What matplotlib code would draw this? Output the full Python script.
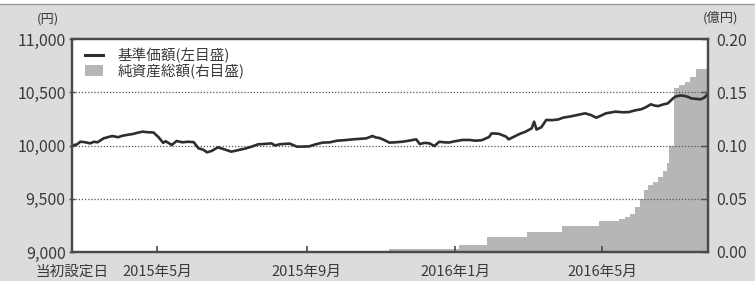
import matplotlib
matplotlib.use("Agg")
import matplotlib.pyplot as plt
from matplotlib.lines import Line2D
from matplotlib.patches import Patch, Rectangle
from matplotlib.ticker import FuncFormatter
import pandas as pd

plt.rcParams['font.family'] = ['Noto Sans CJK JP', 'DejaVu Sans']

# 基準価額 (円)
nav_dates = [
    "2015-02-20", "2015-02-24", "2015-02-27", "2015-03-03", "2015-03-07", "2015-03-10",
    "2015-03-13", "2015-03-15", "2015-03-18", "2015-03-22", "2015-03-25", "2015-03-30",
    "2015-04-02", "2015-04-06", "2015-04-11", "2015-04-15", "2015-04-19", "2015-04-23",
    "2015-04-28", "2015-05-02", "2015-05-06", "2015-05-08", "2015-05-11", "2015-05-13",
    "2015-05-17", "2015-05-22", "2015-05-26", "2015-05-31", "2015-06-04", "2015-06-08",
    "2015-06-11", "2015-06-15", "2015-06-20", "2015-06-25", "2015-07-01", "2015-07-06",
    "2015-07-12", "2015-07-18", "2015-07-23", "2015-07-29", "2015-08-03", "2015-08-06",
    "2015-08-10", "2015-08-14", "2015-08-18", "2015-08-24", "2015-08-29", "2015-09-03",
    "2015-09-08", "2015-09-14", "2015-09-20", "2015-09-26", "2015-10-02", "2015-10-09",
    "2015-10-14", "2015-10-20", "2015-10-25", "2015-10-28", "2015-10-31", "2015-11-04",
    "2015-11-08", "2015-11-13", "2015-11-19", "2015-11-24", "2015-11-30", "2015-12-03",
    "2015-12-07", "2015-12-11", "2015-12-15", "2015-12-19", "2015-12-23", "2015-12-27",
    "2016-01-01", "2016-01-07", "2016-01-13", "2016-01-18", "2016-01-23", "2016-01-29",
    "2016-01-31", "2016-02-06", "2016-02-12", "2016-02-14", "2016-02-18", "2016-02-23",
    "2016-02-28", "2016-03-04", "2016-03-06", "2016-03-08", "2016-03-12", "2016-03-16",
    "2016-03-21", "2016-03-26", "2016-03-30", "2016-04-04", "2016-04-10", "2016-04-17",
    "2016-04-22", "2016-04-26", "2016-04-30", "2016-05-04", "2016-05-08", "2016-05-12",
    "2016-05-18", "2016-05-23", "2016-05-28", "2016-06-02", "2016-06-06", "2016-06-10",
    "2016-06-13", "2016-06-16", "2016-06-20", "2016-06-24", "2016-06-28", "2016-06-30",
    "2016-07-04", "2016-07-08", "2016-07-11", "2016-07-13", "2016-07-17", "2016-07-21",
    "2016-07-24", "2016-07-26",
]
nav_values = [
    10000, 10010, 10036, 10030, 10020, 10035,
    10030, 10045, 10067, 10080, 10089, 10078,
    10090, 10099, 10108, 10120, 10130, 10125,
    10122, 10080, 10025, 10040, 10020, 10005,
    10042, 10030, 10035, 10032, 9974, 9960,
    9936, 9950, 9983, 9965, 9942, 9955,
    9970, 9990, 10011, 10015, 10020, 10000,
    10012, 10015, 10018, 9989, 9990, 9992,
    10010, 10027, 10030, 10045, 10050, 10058,
    10062, 10067, 10089, 10075, 10070, 10050,
    10027, 10030, 10036, 10045, 10058, 10014,
    10025, 10020, 9995, 10035, 10030, 10028,
    10040, 10052, 10052, 10045, 10050, 10080,
    10114, 10110, 10083, 10058, 10080, 10108,
    10130, 10161, 10224, 10150, 10172, 10240,
    10238, 10245, 10262, 10271, 10285, 10302,
    10285, 10261, 10280, 10302, 10310, 10318,
    10312, 10314, 10330, 10340, 10360, 10387,
    10375, 10370, 10385, 10396, 10440, 10458,
    10470, 10465, 10455, 10443, 10438, 10434,
    10450, 10474,
]

# 純資産総額 (億円)
asset_dates = [
    "2015-02-20", "2015-11-08", "2016-01-04", "2016-01-27", "2016-02-29", "2016-03-29",
    "2016-04-28", "2016-05-15", "2016-05-20", "2016-05-24", "2016-05-28", "2016-06-01",
    "2016-06-04", "2016-06-08", "2016-06-12", "2016-06-16", "2016-06-20", "2016-06-23",
    "2016-06-25", "2016-06-29", "2016-07-03", "2016-07-08", "2016-07-12", "2016-07-17",
    "2016-07-27",
]
asset_values = [
    0.0005, 0.0025, 0.0068, 0.0138, 0.0190, 0.0244,
    0.0290, 0.0310, 0.0332, 0.0360, 0.0420, 0.0500,
    0.0580, 0.0630, 0.0660, 0.0700, 0.0760, 0.0840,
    0.1000, 0.1540, 0.1570, 0.1600, 0.1640, 0.1720,
    0.1720,
]

tick_dates = ["2015-02-20", "2015-05-01", "2015-09-01", "2016-01-01", "2016-05-01"]
tick_labels = ["当初設定日", "2015年5月", "2015年9月", "2016年1月", "2016年5月"]
left_ticks = [9000, 9500, 10000, 10500, 11000]
right_ticks = [0.00, 0.05, 0.10, 0.15, 0.20]
legend_labels = ["基準価額(左目盛)", "純資産総額(右目盛)"]

nav_d = pd.to_datetime(nav_dates)
asset_d = pd.to_datetime(asset_dates)
tick_d = pd.to_datetime(tick_dates)

BG = "#dcdcdc"
AREA = "#b6b6b6"
SPINE = "#4a4a4a"
LINE = "#2e2e2e"
TXT = "#3a3a3a"

fig = plt.figure(figsize=(7.55, 2.81), dpi=100)
fig.patch.set_facecolor(BG)
fig.patches.append(Rectangle((0, 1 - 3.5 / 281), 1, 3.5 / 281, transform=fig.transFigure,
                             facecolor="white", edgecolor="none", zorder=0))
fig.add_artist(Line2D([0, 1], [1 - 4 / 281, 1 - 4 / 281], transform=fig.transFigure,
                      color="#9a9a9a", lw=1.0))

ax1 = fig.add_axes([72 / 755, 1 - 252 / 281, (708 - 72) / 755, (252 - 39) / 281])
ax2 = ax1.twinx()

ax2.fill_between(asset_d, asset_values, step="post", color=AREA, lw=0)
ax1.set_zorder(ax2.get_zorder() + 1)
ax1.patch.set_visible(False)
ax2.patch.set_visible(True)
ax2.patch.set_facecolor("white")

ax1.plot(nav_d, nav_values, color=LINE, lw=1.9, solid_joinstyle="round")

xmin = pd.Timestamp("2015-02-20")
xmax = pd.Timestamp("2016-07-27")
ax1.set_xlim(xmin, xmax)
ax1.set_ylim(9000, 11000)
ax2.set_ylim(0, 0.20)

ax1.set_yticks(left_ticks)
ax1.yaxis.set_major_formatter(FuncFormatter(lambda v, p: f"{int(v):,}"))
ax2.set_yticks(right_ticks)
ax2.yaxis.set_major_formatter(FuncFormatter(lambda v, p: f"{v:.2f}"))

ax1.set_xticks(tick_d)
ax1.set_xticklabels(tick_labels)

for g in [9500, 10000, 10500]:
    ax1.axhline(g, color="#555555", lw=0.9, ls=(0, (1, 1.5)), zorder=1)

fs = 11.5
ax1.tick_params(axis="y", direction="inout", length=5, width=1, color=SPINE,
                labelsize=fs, labelcolor=TXT, pad=2)
ax1.tick_params(axis="x", direction="in", length=4, width=1.2, color=SPINE,
                labelsize=10.5, labelcolor=TXT, pad=9)
ax2.tick_params(axis="y", direction="in", length=5, width=1, color=SPINE,
                labelsize=fs, labelcolor=TXT, pad=6)

for ax in (ax1, ax2):
    for s in ax.spines.values():
        s.set_color(SPINE)
        s.set_linewidth(1.6)

fig.text(48 / 755, 1 - 19 / 281, "(円)", ha="center", va="center", fontsize=9.5, color=TXT)
fig.text(721 / 755, 1 - 18 / 281, "(億円)", ha="center", va="center", fontsize=9.5, color=TXT)

handles = [Line2D([0], [0], color=LINE, lw=2.2),
           Patch(facecolor=AREA, edgecolor="none")]
leg = ax1.legend(handles, legend_labels, loc="upper left", bbox_to_anchor=(0.012, 0.985),
                 frameon=False, fontsize=10.5, handlelength=1.2, handleheight=0.8,
                 handletextpad=1.0, labelspacing=0.0, borderaxespad=0)
for t in leg.get_texts():
    t.set_color(TXT)

fig.savefig("out.png", dpi=100, facecolor=fig.get_facecolor())
